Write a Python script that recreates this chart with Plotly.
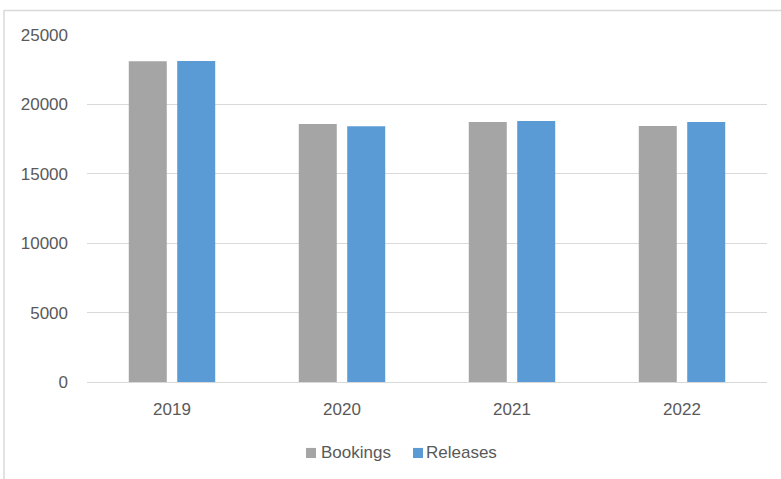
import plotly.graph_objects as go

# Annual jail activity totals
years = ["2019", "2020", "2021", "2022"]
series_names = ["Bookings", "Releases"]
bookings = [23100, 18590, 18730, 18440]
releases = [23120, 18420, 18800, 18730]
y_ticks = [0, 5000, 10000, 15000, 20000, 25000]

GRAY = "#A5A5A5"
BLUE = "#5B9BD5"
TEXT = "#595959"
GRID = "#D9D9D9"
FONT = "Liberation Sans, Arial, sans-serif"

fig = go.Figure()
fig.add_trace(go.Bar(name=series_names[0], x=years, y=bookings, marker_color=GRAY,
                     marker_line_width=0))
fig.add_trace(go.Bar(name=series_names[1], x=years, y=releases, marker_color=BLUE,
                     marker_line_width=0))

# Compact bottom legend: small square swatch followed closely by the label
# (swatch x position, label x position) in paper units
legend_items = [(series_names[0], GRAY, 0.3221, 0.3412),
                (series_names[1], BLUE, 0.4794, 0.4956)]
shapes = [dict(type="rect", xref="paper", yref="paper",
               x0=-0.1221, y0=-1.0, x1=2.0, y1=1.0706,
               line=dict(color=GRID, width=1.5), layer="below")]
annotations = []
for name, color, sx, tx in legend_items:
    shapes.append(dict(type="rect", xref="paper", yref="paper",
                       x0=sx, x1=sx + 0.0147, y0=-0.190, y1=-0.219,
                       fillcolor=color, line=dict(width=0)))
    annotations.append(dict(text=name, xref="paper", yref="paper",
                            x=tx, y=-0.2046, xanchor="left", yanchor="middle",
                            showarrow=False, font=dict(size=17, color=TEXT)))

fig.update_layout(
    width=781, height=479,
    margin=dict(l=87, r=14, t=35, b=97),
    paper_bgcolor="white", plot_bgcolor="white",
    barmode="group", bargap=0.43, bargroupgap=0.216,
    font=dict(family=FONT, size=17, color=TEXT),
    showlegend=False,
    xaxis=dict(showgrid=False, showline=True, linecolor=GRID, linewidth=1,
               ticks="", ticklabelstandoff=12, tickfont=dict(size=17, color=TEXT)),
    yaxis=dict(range=[0, 25000], tickvals=y_ticks, tickformat="d", showgrid=True,
               gridcolor=GRID, gridwidth=1, zeroline=False, showline=False, ticks="",
               ticklabelstandoff=18, tickfont=dict(size=17, color=TEXT)),
    shapes=shapes,
    annotations=annotations,
)

fig.write_html("out.html")
